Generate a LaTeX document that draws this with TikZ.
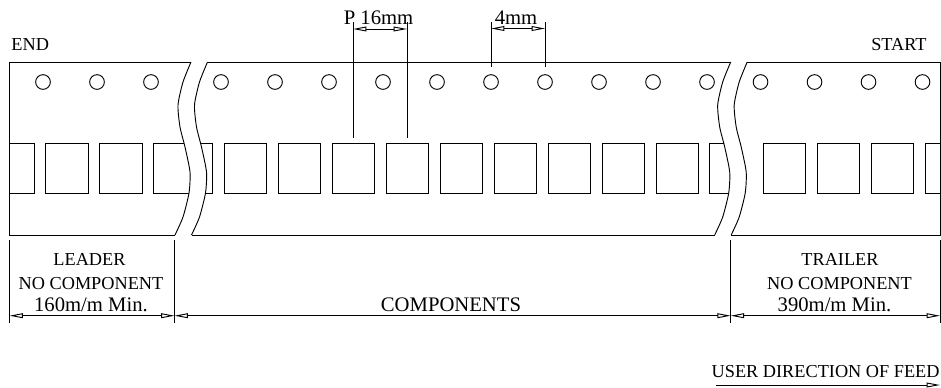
\documentclass[tikz,border=0pt]{standalone}
\usepackage{fontspec}
\setmainfont{Liberation Serif}
\usetikzlibrary{arrows.meta}
\newcommand{\tapecut}[1]{\draw[shift={(#1,0)}] plot[smooth,tension=.4] coordinates {(191,62) (183,82) (178,105) (180,127) (185,147) (190,172) (189,193) (183,217) (175,235)};}
\begin{document}
\begin{tikzpicture}[
            x = 0.75pt, y = -0.75pt, % reference pixels
            > = {Triangle[open,length=10pt,width=3.6pt]}, % arrow head style
            line width = 0.7pt,
            hole/.style = {shape=circle,draw=black,minimum size=11pt,inner sep=0pt},
            pad/.style = {shape=rectangle,draw=black,minimum width=31.8pt,minimum height=37.4pt,inner sep=0pt},
            caps/.style = {anchor=base,inner sep=0pt,font=\fontsize{13.7}{14}\selectfont},
            size/.style = {anchor=base,inner sep=0pt,font=\fontsize{15.5}{16}\selectfont}
        ]
\useasboundingbox (0,0) rectangle (941,387);

% tape outline
\draw (191,62) -- (9.5,62) -- (9.5,235) -- (175,235);
\draw (207.5,62) -- (730.7,62);
\draw (191.5,235) -- (714.7,235);
\draw (747.2,62) -- (940,62) -- (940,235) -- (731.2,235);
\tapecut{0}
\tapecut{16.5}
\tapecut{539.7}
\tapecut{556.2}

% sprocket holes
\node[hole] (h1) at (43,82) {};
\node[hole] (h2) at (97,82) {};
\node[hole] (h3) at (151,82) {};
\node[hole] (h4) at (221,82) {};
\node[hole] (h5) at (275,82) {};
\node[hole] (h6) at (329,82) {};
\node[hole] (h7) at (383,82) {};
\node[hole] (h8) at (437,82) {};
\node[hole] (h9) at (491,82) {};
\node[hole] (h10) at (545,82) {};
\node[hole] (h11) at (599,82) {};
\node[hole] (h12) at (653,82) {};
\node[hole] (h13) at (707,82) {};
\node[hole] (h14) at (760.5,82) {};
\node[hole] (h15) at (814.5,82) {};
\node[hole] (h16) at (868.5,82) {};
\node[hole] (h17) at (922.5,82) {};

% component pockets
\node[pad] (p1) at (67,168.2) {};
\node[pad] (p2) at (121,168.2) {};
\node[pad] (p3) at (245.5,168.2) {};
\node[pad] (p4) at (299.5,168.2) {};
\node[pad] (p5) at (353.5,168.2) {};
\node[pad] (p6) at (407.5,168.2) {};
\node[pad] (p7) at (461.5,168.2) {};
\node[pad] (p8) at (515.5,168.2) {};
\node[pad] (p9) at (569.5,168.2) {};
\node[pad] (p10) at (623.5,168.2) {};
\node[pad] (p11) at (677.5,168.2) {};
\node[pad] (p12) at (784.7,168.2) {};
\node[pad] (p13) at (838.7,168.2) {};
\node[pad] (p14) at (892.7,168.2) {};

% pockets cut by the tape ends and breaks
\draw (9.5,143) -- (34.5,143) -- (34.5,193.5) -- (9.5,193.5);
\draw (184.3,143) -- (153.5,143) -- (153.5,193.5) -- (189.3,193.5);
\draw (201,143) -- (212.5,143) -- (212.5,193.5) -- (205.8,193.5);
\draw (724,143) -- (709.5,143) -- (709.5,193.5) -- (729,193.5);
\draw (940,143) -- (925,143) -- (925,193.5) -- (940,193.5);

% pitch dimensions
\coordinate (pA) at (353,22);
\coordinate (pB) at (407,22);
\coordinate (pC) at (353,137.5);
\coordinate (pD) at (407,137.5);
\coordinate (pE) at (353,29);
\coordinate (pF) at (407,29);
\draw (pA) -- (pC);
\draw (pB) -- (pD);
\path [<->] (pE) edge (pF);
\node[size] (pitch) at (378.5,24) {P 16mm};

\coordinate (hA) at (491,22);
\coordinate (hB) at (545,22);
\coordinate (hC) at (491,67);
\coordinate (hD) at (545,67);
\coordinate (hE) at (491,28.5);
\coordinate (hF) at (545,28.5);
\draw (hA) -- (hC);
\draw (hB) -- (hD);
\path [<->] (hE) edge (hF);
\node[size] (holes) at (516,24) {4mm};

% length dimensions
\coordinate (a) at (9.5,240);
\coordinate (b) at (174.5,240);
\coordinate (c) at (730.7,240);
\coordinate (d) at (940,240);
\coordinate (a1) at (9.5,323);
\coordinate (b1) at (174.5,323);
\coordinate (c1) at (730.7,323);
\coordinate (d1) at (940,323);
\coordinate (a2) at (9.5,315.7);
\coordinate (b2) at (174.5,315.7);
\coordinate (c2) at (730.7,315.7);
\coordinate (d2) at (940,315.7);
\draw (a) -- (a1);
\draw (b) -- (b1);
\draw (c) -- (c1);
\draw (d) -- (d1);
\path [<->] (a2) edge (b2);
\path [<->] (b2) edge (c2);
\path [<->] (c2) edge (d2);

% labels
\node[caps,anchor=base west] (endlbl) at (11,50) {END};
\node[caps,anchor=base east] (startlbl) at (927,50) {START};
\node[caps] (leader) at (89.5,265) {LEADER};
\node[caps] (nocompL) at (91,289) {NO COMPONENT};
\node[size] (minL) at (91,311) {160m/m Min.};
\node[size] (comps) at (451,311) {COMPONENTS};
\node[caps] (trailer) at (840,265) {TRAILER};
\node[caps] (nocompT) at (839.5,289) {NO COMPONENT};
\node[size] (minT) at (834.5,311) {390m/m Min.};

% feed direction
\node[caps,anchor=base east] (feed) at (940,377) {USER DIRECTION OF FEED};
\coordinate (fA) at (716,385);
\coordinate (fB) at (940,385);
\path [->] (fA) edge (fB);
\end{tikzpicture}
\end{document}
